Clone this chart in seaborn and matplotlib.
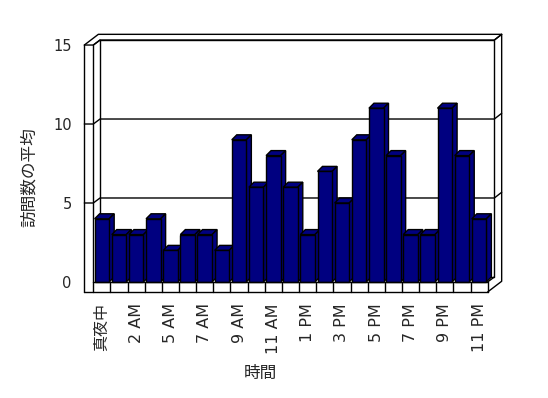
import numpy as np
import matplotlib
matplotlib.use("Agg")
import matplotlib.pyplot as plt
from matplotlib.patches import Polygon
import seaborn as sns

# data
visits = [4, 3, 3, 4, 2, 3, 3, 2, 9, 6, 8, 6, 3, 7, 5, 9, 11, 8, 3, 3, 11, 8, 4]
tick_pos = list(range(0, 23, 2))
tick_labels = ["真夜中", "2 AM", "5 AM", "7 AM", "9 AM", "11 AM",
               "1 PM", "3 PM", "5 PM", "7 PM", "9 PM", "11 PM"]
y_ticks = [0, 5, 10, 15]

sns.set_style("white")
plt.rcParams["font.family"] = ["DejaVu Sans", "Noto Sans CJK JP"]

fig = plt.figure(figsize=(5.48, 3.98), dpi=100)
ax = fig.add_axes([84.3 / 548, 106 / 398, 417.4 / 548, 257.7 / 398])

navy = "#000080"
sns.barplot(x=np.arange(len(visits)), y=visits, color=navy, saturation=1,
            edgecolor="black", linewidth=1, width=0.85, ax=ax, zorder=3)

# pixel scale: 17.15 px per category, 15.8 px per unit
px_x, px_y = 17.15, 15.8
xl_o, xl_i, xr = -0.5 - 9 / px_x, -0.5, len(visits) - 0.5
yb, ytop = -10 / px_y, 15
d1 = (6.7 / px_x, 5 / px_y)
d2 = (14 / px_x, 10.7 / px_y)
bd = (5 / px_x, 5 / px_y)

ax.set_xlim(xl_o - 0.002, xr + d2[0] + 0.002)
ax.set_ylim(yb - 0.002, ytop + d2[1] + 0.002)

lk = dict(color="black", lw=1, clip_on=False, zorder=1)

def line(xs, ys, z=1):
    ax.plot(xs, ys, **{**lk, "zorder": z})

# back wall and box
line([xl_i + d1[0], xr + d1[0], xr + d1[0], xl_i + d1[0], xl_i + d1[0]],
     [d1[1], d1[1], ytop + d1[1], ytop + d1[1], d1[1]])
line([xl_o, xl_o + d2[0], xr + d2[0], xr + d2[0], xr],
     [ytop, ytop + d2[1], ytop + d2[1], yb + d2[1], yb])
line([xl_i, xl_i + d1[0]], [ytop, ytop + d1[1]])
line([xr + d1[0], xr + d2[0]], [ytop + d1[1], ytop + d2[1]])
line([xr, xr + d1[0]], [0, d1[1]])

# gridlines around the walls
for g in y_ticks[1:]:
    line([xl_o, xl_i, xl_i + d1[0], xr + d1[0], xr + d2[0]],
         [g, g, g + d1[1], g + d1[1], g + d2[1]])

# left wall front face and floor front strip
line([xl_o, xl_o], [yb, ytop], z=4)
line([xl_i, xl_i], [0, ytop], z=1)
line([xl_o, xr], [yb, yb], z=4)
line([xl_i, xr], [0, 0], z=4)
for b in np.arange(xl_i, xr + 0.01, 1.0):
    line([b, b], [yb, 0], z=4)

# 3D faces for the bars
for p in ax.patches:
    x, w, h = p.get_x(), p.get_width(), p.get_height()
    top = Polygon([(x, h), (x + w, h), (x + w + bd[0], h + bd[1]), (x + bd[0], h + bd[1])],
                  closed=True, facecolor=navy, edgecolor="black", lw=1, zorder=2.5)
    side = Polygon([(x + w, 0), (x + w + bd[0], bd[1]), (x + w + bd[0], h + bd[1]), (x + w, h)],
                   closed=True, facecolor=navy, edgecolor="black", lw=1, zorder=2.5)
    ax.add_patch(top)
    ax.add_patch(side)

for s in ax.spines.values():
    s.set_visible(False)

ax.set_yticks(y_ticks)
ax.set_yticklabels([str(v) for v in y_ticks], fontsize=10.5)
ax.set_xticks(tick_pos)
ax.set_xticklabels(tick_labels, rotation=90, fontsize=11.5)
ax.tick_params(axis="y", length=0, pad=9)
ax.tick_params(axis="x", length=0, pad=8)

ax.set_ylabel("訪問数の平均", fontsize=12)
ax.yaxis.set_label_coords(-0.112, 0.446)
ax.set_xlabel("時間", fontsize=12)
ax.xaxis.set_label_coords(0.421, -0.279)

fig.savefig("out.png", dpi=100)
